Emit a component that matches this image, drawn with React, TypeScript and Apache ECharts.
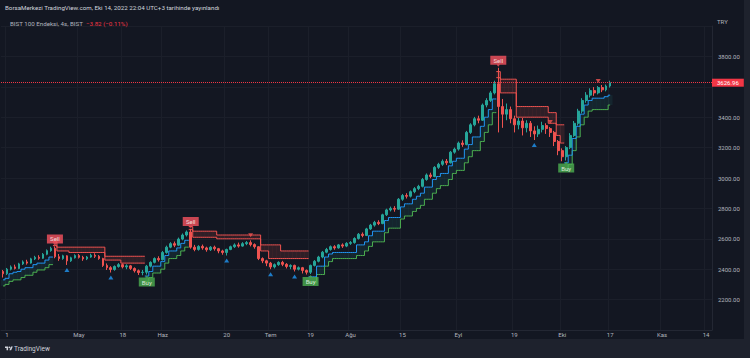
import React, { useEffect, useRef } from 'react';
import * as echarts from 'echarts';

const FONT = 'Roboto, "Noto Sans", Arial, sans-serif';

// [open, close, low, high] per 4h bar (BIST 100, Apr -> Oct 14 2022)
const candles: number[][] = [
  [2385, 2370, 2345, 2395], [2370, 2400, 2362, 2408], [2400, 2415, 2392, 2425], [2415, 2405, 2398, 2430],
  [2405, 2435, 2400, 2442], [2435, 2448, 2428, 2458], [2448, 2440, 2430, 2462], [2440, 2468, 2436, 2475],
  [2468, 2478, 2460, 2488], [2478, 2472, 2462, 2492], [2472, 2498, 2468, 2506], [2498, 2522, 2492, 2530],
  [2522, 2538, 2515, 2548],
  [2538, 2482, 2472, 2550], [2482, 2470, 2455, 2500], [2470, 2488, 2462, 2495], [2488, 2455, 2428, 2492],
  [2455, 2475, 2448, 2482], [2475, 2490, 2470, 2498], [2490, 2478, 2470, 2500], [2478, 2468, 2455, 2488],
  [2468, 2480, 2460, 2487], [2480, 2492, 2475, 2502], [2492, 2485, 2474, 2505], [2485, 2470, 2462, 2493],
  [2470, 2425, 2415, 2475], [2425, 2410, 2395, 2438], [2410, 2398, 2378, 2420], [2398, 2418, 2390, 2425],
  [2418, 2430, 2410, 2440], [2430, 2415, 2405, 2438], [2415, 2422, 2400, 2432], [2422, 2405, 2395, 2428],
  [2405, 2390, 2378, 2412], [2390, 2378, 2362, 2398], [2378, 2380, 2360, 2395], [2380, 2420, 2365, 2428],
  [2420, 2445, 2412, 2452], [2445, 2470, 2438, 2478], [2470, 2462, 2450, 2485], [2462, 2510, 2458, 2520],
  [2510, 2545, 2502, 2555], [2545, 2568, 2538, 2578], [2568, 2558, 2545, 2582], [2558, 2598, 2552, 2608],
  [2598, 2625, 2590, 2635], [2625, 2645, 2615, 2655],
  [2645, 2545, 2535, 2665], [2545, 2530, 2518, 2560], [2530, 2550, 2522, 2558], [2550, 2540, 2528, 2562],
  [2540, 2528, 2515, 2548], [2528, 2545, 2520, 2552], [2545, 2535, 2522, 2555], [2535, 2520, 2505, 2540],
  [2520, 2510, 2495, 2528], [2510, 2530, 2490, 2535], [2530, 2548, 2525, 2555], [2548, 2560, 2540, 2570],
  [2560, 2552, 2542, 2575], [2552, 2568, 2548, 2578], [2568, 2575, 2558, 2585], [2575, 2562, 2550, 2590],
  [2562, 2548, 2535, 2570], [2548, 2470, 2460, 2552], [2470, 2455, 2440, 2478], [2455, 2440, 2420, 2462],
  [2440, 2415, 2400, 2448], [2415, 2430, 2405, 2438], [2430, 2445, 2422, 2452], [2445, 2432, 2420, 2455],
  [2432, 2418, 2405, 2440], [2418, 2425, 2400, 2432], [2425, 2400, 2385, 2430], [2400, 2410, 2392, 2418],
  [2410, 2392, 2372, 2415], [2392, 2380, 2365, 2398],
  [2380, 2425, 2368, 2430], [2425, 2452, 2418, 2460], [2452, 2480, 2445, 2488], [2480, 2512, 2472, 2520],
  [2512, 2530, 2505, 2540], [2530, 2548, 2522, 2556], [2548, 2540, 2528, 2558], [2540, 2560, 2535, 2566],
  [2560, 2552, 2540, 2570], [2552, 2570, 2545, 2578], [2570, 2575, 2560, 2585], [2575, 2602, 2568, 2610],
  [2602, 2630, 2595, 2638], [2630, 2622, 2610, 2642], [2622, 2665, 2618, 2672], [2665, 2690, 2658, 2698],
  [2690, 2708, 2680, 2718], [2708, 2700, 2690, 2722], [2700, 2758, 2696, 2765], [2758, 2790, 2750, 2798],
  [2790, 2800, 2780, 2812], [2800, 2795, 2778, 2815], [2795, 2860, 2790, 2868], [2860, 2885, 2850, 2895],
  [2885, 2880, 2865, 2900], [2880, 2910, 2872, 2918], [2910, 2930, 2900, 2940], [2930, 2945, 2920, 2955],
  [2945, 2990, 2938, 3000], [2990, 3020, 2982, 3030], [3020, 3010, 2998, 3035], [3010, 3070, 3005, 3078],
  [3070, 3090, 3060, 3100], [3090, 3110, 3080, 3122], [3110, 3100, 3085, 3125], [3100, 3170, 3095, 3178],
  [3170, 3190, 3160, 3200], [3190, 3230, 3180, 3240], [3230, 3220, 3205, 3248], [3220, 3300, 3215, 3310],
  [3300, 3350, 3290, 3360], [3350, 3390, 3340, 3402], [3390, 3380, 3360, 3410], [3380, 3480, 3375, 3490],
  [3480, 3510, 3465, 3525], [3510, 3560, 3500, 3572], [3560, 3620, 3550, 3640], [3620, 3470, 3300, 3725],
  [3470, 3420, 3330, 3520], [3420, 3450, 3380, 3490], [3450, 3390, 3360, 3470], [3390, 3350, 3300, 3410],
  [3350, 3375, 3320, 3395], [3375, 3330, 3280, 3395], [3330, 3360, 3300, 3380], [3360, 3310, 3270, 3375],
  [3310, 3290, 3250, 3340], [3290, 3320, 3270, 3345], [3320, 3345, 3300, 3370], [3345, 3325, 3290, 3360],
  [3325, 3300, 3270, 3335], [3300, 3240, 3210, 3310], [3240, 3180, 3150, 3250], [3180, 3140, 3110, 3195],
  [3140, 3200, 3115, 3210],
  [3200, 3280, 3190, 3295], [3280, 3360, 3270, 3375], [3360, 3440, 3345, 3455], [3440, 3510, 3425, 3525],
  [3510, 3545, 3495, 3565], [3545, 3575, 3530, 3590], [3575, 3560, 3540, 3598], [3560, 3595, 3550, 3605],
  [3595, 3580, 3565, 3612], [3580, 3605, 3570, 3615], [3605, 3626.96, 3595, 3640],
];

// stepped trailing band closest to price (blue in uptrend, red in downtrend)
const innerBand: number[] = [
  2330, 2340, 2370, 2380, 2385, 2400, 2410, 2410, 2430, 2440, 2440, 2460, 2480,
  2555, 2520, 2520, 2520, 2510, 2510, 2510, 2510, 2510, 2510, 2510, 2510, 2510,
  2460, 2460, 2460, 2460, 2440, 2440, 2440, 2440, 2440, 2440,
  2355, 2385, 2420, 2420, 2450, 2490, 2520, 2520, 2540, 2570, 2590,
  2660, 2610, 2610, 2610, 2610, 2610, 2610, 2600, 2600, 2600, 2600, 2600, 2600, 2600, 2600, 2600, 2600, 2600,
  2520, 2520, 2470, 2470, 2470, 2470, 2470, 2470, 2470, 2470, 2470, 2470,
  2350, 2350, 2420, 2420, 2480, 2500, 2510, 2510, 2510, 2510, 2510, 2510, 2560, 2560, 2580, 2620,
  2650, 2650, 2650, 2720, 2740, 2740, 2740, 2810, 2830, 2830, 2860, 2880, 2900, 2940, 2940, 2990,
  3010, 3030, 3030, 3080, 3110, 3130, 3130, 3190, 3220, 3270, 3270, 3340, 3400, 3450, 3520,
  3660, 3560, 3560, 3560, 3560, 3400, 3400, 3400, 3400, 3400, 3400, 3400, 3400, 3360, 3360, 3280, 3230,
  3100, 3150, 3260, 3340, 3420, 3480, 3510, 3525, 3525, 3525, 3535, 3545,
];

// outer stepped band (green in uptrend, red in downtrend)
const outerBand: number[] = [
  2290, 2300, 2320, 2330, 2330, 2345, 2360, 2360, 2380, 2395, 2395, 2410, 2430,
  2580, 2545, 2545, 2545, 2545, 2545, 2545, 2545, 2545, 2545, 2545, 2545, 2545,
  2485, 2485, 2485, 2485, 2485, 2485, 2485, 2485, 2485, 2485,
  2320, 2345, 2375, 2375, 2400, 2440, 2470, 2470, 2490, 2520, 2545,
  2680, 2650, 2650, 2650, 2650, 2650, 2650, 2625, 2625, 2625, 2625, 2625, 2625, 2625, 2625, 2625, 2625, 2625,
  2560, 2560, 2560, 2560, 2560, 2520, 2520, 2520, 2520, 2520, 2520, 2520,
  2310, 2310, 2365, 2365, 2420, 2450, 2470, 2470, 2470, 2470, 2470, 2470, 2490, 2490, 2520, 2550,
  2580, 2580, 2580, 2640, 2670, 2670, 2670, 2730, 2750, 2750, 2780, 2800, 2820, 2860, 2860, 2900,
  2930, 2950, 2950, 2990, 3030, 3050, 3050, 3100, 3140, 3180, 3180, 3240, 3300, 3350, 3430,
  3700, 3650, 3650, 3650, 3650, 3470, 3470, 3470, 3470, 3470, 3470, 3470, 3470, 3430, 3430, 3350, 3350,
  3050, 3090, 3180, 3270, 3350, 3400, 3440, 3450, 3450, 3450, 3450, 3480,
];

const sellSignals = [13, 47, 124];
const buySignals = [36, 77, 141];
const blueMarkBars = [16, 27, 56, 67, 73, 133];
const redMarkBars = [62, 137, 149];

const totalBars = 178;
const timeLabels = ['1', 'May', '18', 'Haz', '20', 'Tem', '19', 'Ağu', '15', 'Eyl', '19', 'Eki', '17', 'Kas', '14'];
const timeLabelBars = [1, 19, 30, 40, 56, 67, 77, 87, 100, 114, 128, 140, 152, 165, 176];

const lastPrice = 3626.96;
const hiddenPriceTick = 3600; // covered by the last-price box in the reference

echarts.graphic.registerShape(
  'tvlogo',
  echarts.graphic.extendPath('M14 22H7V11H0V4h14v18zM28 22h-8l7.5-18h8L28 22zM20 4a4 4 0 1 1 0 8a4 4 0 1 1 0-8z', {})
);

export default function App() {
  const ref = useRef<HTMLDivElement>(null);

  useEffect(() => {
    if (!ref.current) return;
    const chart = echarts.init(ref.current, undefined, { renderer: 'svg' });

    const trendUp: boolean[] = [];
    let up = true;
    for (let i = 0; i < candles.length; i++) {
      if (sellSignals.includes(i)) up = false;
      if (buySignals.includes(i)) up = true;
      trendUp.push(up);
    }
    const blueLine = innerBand.map((v, i) => (trendUp[i] ? v : null));
    const greenLine = outerBand.map((v, i) => (trendUp[i] ? v : null));
    const redInner = innerBand.map((v, i) => (trendUp[i] ? null : v));
    const redOuter = outerBand.map((v, i) => (trendUp[i] ? null : v));
    const fillData = candles.map((_, i) => [i, innerBand[i], outerBand[i], trendUp[i] ? 1 : 0]);

    const categories = Array.from({ length: totalBars }, (_, i) => String(i));
    const labelMap: Record<number, string> = {};
    timeLabelBars.forEach((b, k) => (labelMap[b] = timeLabels[k]));

    const option: any = {
      animation: false,
      backgroundColor: '#131722',
      textStyle: { fontFamily: FONT },
      grid: { left: 0, right: 38, top: 26, bottom: 28 },
      xAxis: {
        type: 'category',
        data: categories,
        boundaryGap: true,
        axisLine: { show: true, lineStyle: { color: '#232733' } },
        axisTick: { show: false },
        axisLabel: {
          interval: 0,
          margin: 1,
          color: '#b2b5be',
          fontSize: 6,
          fontFamily: FONT,
          formatter: (_v: string, idx: number) => labelMap[idx] ?? '',
        },
        splitLine: {
          show: true,
          interval: (idx: number) => labelMap[idx] !== undefined,
          lineStyle: { color: '#1b1f2a' },
        },
      },
      yAxis: {
        type: 'value',
        position: 'right',
        min: 2000,
        max: 4000,
        interval: 200,
        axisLine: { show: true, lineStyle: { color: '#232733' } },
        axisTick: { show: false },
        axisLabel: {
          color: '#b2b5be',
          fontSize: 6,
          margin: 6,
          fontFamily: FONT,
          showMinLabel: false,
          showMaxLabel: false,
          formatter: (v: number) => (v === hiddenPriceTick ? '' : v.toFixed(2)),
        },
        splitLine: { lineStyle: { color: '#1b1f2a' } },
      },
      series: [
        {
          type: 'custom',
          z: 1,
          silent: true,
          data: fillData,
          encode: { x: 0, y: [1, 2] },
          renderItem: (_p: any, api: any) => {
            const i = api.value(0);
            const a = api.coord([i, api.value(1)]);
            const b = api.coord([i, api.value(2)]);
            const w = api.size([1, 0])[0];
            return {
              type: 'rect',
              shape: { x: a[0] - w / 2, y: Math.min(a[1], b[1]), width: w + 0.4, height: Math.abs(a[1] - b[1]) },
              style: { fill: api.value(3) ? 'rgba(38,166,154,0.10)' : 'rgba(239,83,80,0.13)' },
            };
          },
        },
        {
          type: 'line', z: 2, data: greenLine, step: 'middle', showSymbol: false, silent: true,
          lineStyle: { color: '#4caf50', width: 1 },
        },
        {
          type: 'line', z: 2, data: blueLine, step: 'middle', showSymbol: false, silent: true,
          lineStyle: { color: '#2196f3', width: 1 },
        },
        {
          type: 'line', z: 2, data: redOuter, step: 'middle', showSymbol: false, silent: true,
          lineStyle: { color: '#ef5350', width: 1 },
        },
        {
          type: 'line', z: 2, data: redInner, step: 'middle', showSymbol: false, silent: true,
          lineStyle: { color: '#ef5350', width: 1 },
        },
        {
          type: 'candlestick',
          z: 3,
          data: candles,
          barWidth: '55%',
          itemStyle: {
            color: '#26a69a', color0: '#ef5350', borderColor: '#26a69a', borderColor0: '#ef5350', borderWidth: 1,
          },
          markLine: {
            silent: true,
            symbol: ['none', 'none'],
            lineStyle: { color: '#f23645', type: 'dotted', width: 1 },
            label: {
              position: 'end',
              distance: 0,
              formatter: lastPrice.toFixed(2),
              backgroundColor: '#f23645',
              color: '#ffffff',
              fontSize: 6,
              fontFamily: FONT,
              padding: [1, 5, 1, 5],
            },
            data: [{ yAxis: lastPrice }],
          },
        },
        {
          type: 'scatter', z: 4, silent: true,
          symbol: 'triangle', symbolSize: [5, 4], symbolOffset: [0, 5],
          itemStyle: { color: '#2196f3' },
          data: blueMarkBars.map((i) => [i, candles[i][2]]),
        },
        {
          type: 'scatter', z: 4, silent: true,
          symbol: 'triangle', symbolRotate: 180, symbolSize: [5, 4], symbolOffset: [0, -5],
          itemStyle: { color: '#ef5350' },
          data: redMarkBars.map((i) => [i, candles[i][3]]),
        },
        {
          type: 'scatter', z: 5, silent: true,
          symbol: 'path://M0,0H16V9H9.5L8,11L6.5,9H0Z', symbolSize: [16, 11], symbolOffset: [0, -6.5],
          itemStyle: { color: '#f7525f' },
          label: { show: true, position: 'inside', offset: [0, -1], formatter: 'Sell', color: '#ffffff', fontSize: 6, fontFamily: FONT },
          data: sellSignals.map((i) => [i, candles[i][3]]),
        },
        {
          type: 'scatter', z: 5, silent: true,
          symbol: 'path://M0,2H6.5L8,0L9.5,2H16V11H0Z', symbolSize: [16, 11], symbolOffset: [0, 6.5],
          itemStyle: { color: '#4caf50' },
          label: { show: true, position: 'inside', offset: [0, 1], formatter: 'Buy', color: '#ffffff', fontSize: 6, fontFamily: FONT },
          data: buySignals.map((i) => [i, candles[i][2]]),
        },
      ],
      graphic: [
        { type: 'rect', z: 100, shape: { x: 0, y: 339, width: 750, height: 19 }, style: { fill: '#1e222d' } },
        { type: 'rect', z: 100, shape: { x: 744, y: 0, width: 6, height: 339 }, style: { fill: '#1e222d' } },
        {
          type: 'text', z: 101, x: 5, y: 8,
          style: {
            text: 'BorsaMerkezi TradingView.com, Eki 14, 2022 22:04 UTC+3 tarihinde yayınlandı',
            fill: '#d1d4dc', font: `6.2px ${FONT}`, verticalAlign: 'middle',
          },
        },
        {
          type: 'text', z: 101, x: 10, y: 24,
          style: { text: 'BIST 100 Endeksi, 4s, BIST', fill: '#b2b5be', font: `6.2px ${FONT}`, verticalAlign: 'middle' },
        },
        {
          type: 'text', z: 101, x: 86, y: 24,
          style: { text: '−3.82 (−0.11%)', fill: '#f23645', font: `6.2px ${FONT}`, verticalAlign: 'middle' },
        },
        {
          type: 'text', z: 101, x: 717, y: 21,
          style: { text: 'TRY', fill: '#b2b5be', font: `6px ${FONT}`, verticalAlign: 'middle' },
        },
        { type: 'tvlogo', z: 101, x: 5, y: 345.5, scaleX: 0.22, scaleY: 0.22, style: { fill: '#d1d4dc' } },
        {
          type: 'text', z: 101, x: 14, y: 349,
          style: { text: 'TradingView', fill: '#d1d4dc', font: `6.5px ${FONT}`, verticalAlign: 'middle' },
        },
      ],
    };

    chart.setOption(option);
    return () => chart.dispose();
  }, []);

  return (
    <div style={{ position: 'fixed', left: 0, top: 0, width: 750, height: 358, background: '#131722' }}>
      <div ref={ref} style={{ width: 750, height: 358 }} />
    </div>
  );
}
